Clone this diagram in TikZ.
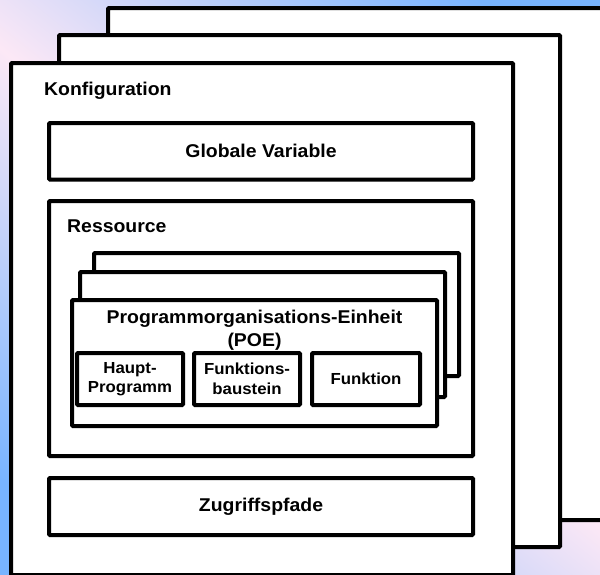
\documentclass[tikz,border=0pt]{standalone}
\usepackage{fontspec}
\setmainfont{Liberation Sans}[FakeStretch=1.05]

\definecolor{bgblue}{RGB}{120,180,255}
\definecolor{bgpink}{RGB}{252,232,246}

% diagonal wash: blue at two opposite corners, pink along the diagonal
\pgfdeclarehorizontalshading{bgwash}{100bp}{%
  color(0bp)=(bgblue); color(21bp)=(bgblue); color(50bp)=(bgpink);
  color(79bp)=(bgblue); color(100bp)=(bgblue)}

\tikzset{
  box/.style={draw=black, line width=4pt, fill=white, inner sep=0pt,
    rounded corners=1pt, align=center,
    font=\fontsize{18.5}{23}\selectfont\bfseries},
  smallbox/.style={box, font=\fontsize{16}{19.5}\selectfont\bfseries},
  lbl/.style={inner sep=0pt, align=center,
    font=\fontsize{18.5}{23}\selectfont\bfseries},
  size/.style 2 args={minimum width=#1pt, minimum height=#2pt},
}

\begin{document}
\begin{tikzpicture}[x=1pt, y=-1pt]
\useasboundingbox (0,0) rectangle (600,574);
\shade[shading=bgwash, shading angle=51.5] (0,0) rectangle (600,574);

% stacked configurations
\node[box, size={532}{512}] (cfg3) at (374,264) {};
\node[box, size={501}{512}] (cfg2) at (309.5,291) {};
\node[box, size={502}{512}] (cfg1) at (262,319) {};
\node[lbl, anchor=base west] (cfgtitle) at (44,95) {Konfiguration};

\node[box, size={424}{56.5}] (gv) at (261,151.25) {Globale Variable};

% resource with stacked program organisation units
\node[box, size={424}{255}] (res) at (261,328.5) {};
\node[lbl, anchor=base west] (restitle) at (67,232) {Ressource};

\node[box, size={365}{123}] (poe3) at (276.5,314.5) {};
\node[box, size={365}{125}] (poe2) at (262.5,334.5) {};
\node[box, size={365}{126}] (poe1) at (254.5,363) {};
\node[lbl] (poetitle) at (254.5,330) {Programmorganisations-Einheit\\(POE)};

\node[smallbox, size={106}{52}] (hp) at (130,379) {Haupt-\\Programm};
\node[smallbox, size={106}{52}] (fb) at (247,379) {Funktions-\\baustein};
\node[smallbox, size={108}{52}] (fn) at (366,379) {Funktion};

\node[box, size={424}{57}] (zp) at (261,506.5) {Zugriffspfade};
\end{tikzpicture}
\end{document}
